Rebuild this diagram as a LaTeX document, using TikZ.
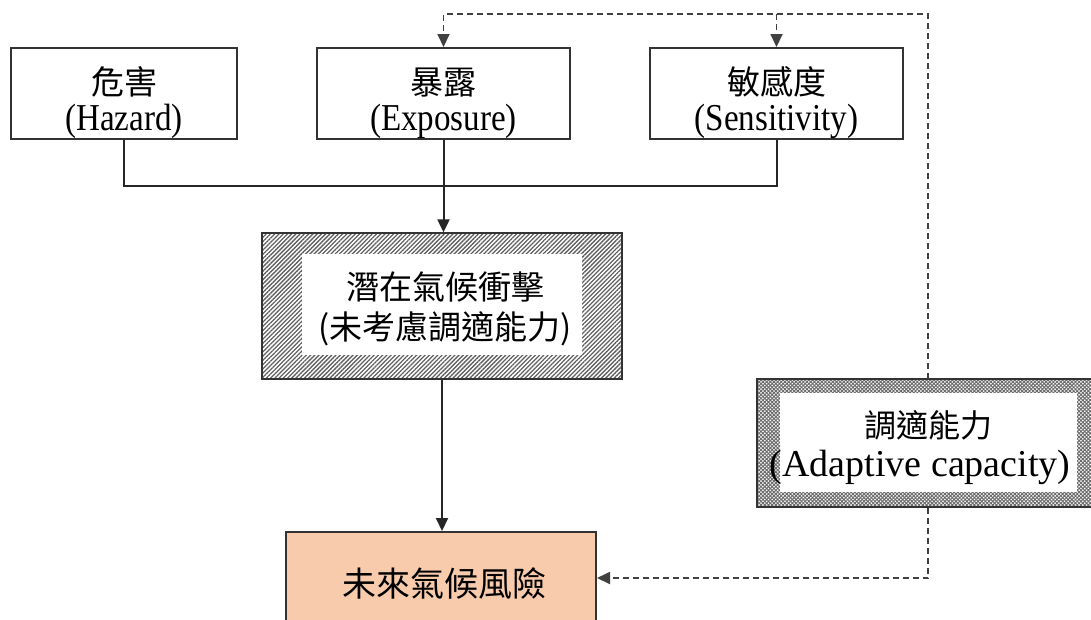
\documentclass[tikz,border=0pt]{standalone}
\usepackage{fontspec}
\setmainfont{Liberation Serif}
\newfontfamily\cjk{Noto Sans CJK TC}
\usetikzlibrary{arrows.meta,patterns.meta}
\definecolor{peach}{HTML}{F8CBAD}
\definecolor{edge}{HTML}{333333}
\tikzset{
  box/.style={draw=edge,line width=2pt,fill=white,inner sep=0pt,anchor=center},
  hatchbox/.style={draw=edge,line width=2pt,inner sep=0pt,pattern={Lines[angle=45,distance=3pt,line width=1.3pt]},pattern color=gray!75!black},
  crossbox/.style={draw=edge,line width=2pt,inner sep=0pt,pattern={Hatch[angle=45,distance=2.6pt,line width=1pt]},pattern color=gray!85!black},
  inner/.style={fill=white,draw=none,inner sep=0pt},
  zh/.style={font=\cjk\fontsize{33}{36}\selectfont,inner sep=0pt,anchor=base},
  en/.style={font=\fontsize{38}{40}\selectfont\addfontfeature{FakeStretch=0.87},inner sep=0pt,anchor=base},
  enbig/.style={font=\fontsize{38}{40}\selectfont,inner sep=0pt,anchor=base},
  conn/.style={draw=black!85,line width=2pt},
  arr/.style={conn,-{Triangle[length=13pt,width=12pt]}},
  darr/.style={draw=black!75,line width=1.8pt,dash pattern=on 6pt off 4pt,-{Triangle[length=13pt,width=12pt]}}
}
\begin{document}
\begin{tikzpicture}[x=1pt,y=-1pt]
\useasboundingbox (0,0) rectangle (1091,619);
\clip (0,0) rectangle (1091,619);
% top boxes
\node[box,minimum width=226pt,minimum height=91pt] (haz) at (124,93.5) {};
\node[box,minimum width=253pt,minimum height=91pt] (exp) at (443.5,93.5) {};
\node[box,minimum width=253pt,minimum height=91pt] (sen) at (776.5,93.5) {};
\node[zh] (hazC) at (124,94) {危害};
\node[en] (hazE) at (124,130) {(Hazard)};
\node[zh] (expC) at (443.5,94) {暴露};
\node[en] (expE) at (443.5,130) {(Exposure)};
\node[zh] (senC) at (776.5,94) {敏感度};
\node[en] (senE) at (776.5,130) {(Sensitivity)};
% potential impact
\node[hatchbox,minimum width=360pt,minimum height=146pt] (pot) at (442,306) {};
\node[inner,minimum width=280pt,minimum height=101pt] (potIn) at (442,304.5) {};
\node[zh] (potA) at (445,299) {潛在氣候衝擊};
\node[zh] (potB) at (445,339) {(未考慮調適能力)};
% adaptive capacity
\node[crossbox,minimum width=342pt,minimum height=128pt] (ada) at (928,443) {};
\node[inner,minimum width=297pt,minimum height=99pt] (adaIn) at (928.5,442.5) {};
\node[zh,font=\cjk\fontsize{32}{36}\selectfont] (adaC) at (928.5,437) {調適能力};
\node[enbig] (adaE) at (920,476) {(Adaptive capacity)};
% future risk
\node[box,fill=peach,minimum width=310pt,minimum height=92pt] (risk) at (441,578) {};
\node[zh,font=\cjk\fontsize{34}{36}\selectfont] (riskT) at (444,596) {未來氣候風險};
% connectors
\coordinate (j) at (443.5,186);
\coordinate (top) at (0,14);
\draw[conn] (haz.south) |- (j) -| (sen.south);
\draw[arr] (exp.south) -- (pot.north -| exp.south);
\draw[arr] (pot.south) -- (pot.south |- risk.north);
\draw[darr] (ada.north) |- (exp.north |- top) -- (exp.north);
\draw[darr] (sen.north |- top) -- (sen.north);
\draw[darr] (ada.south) |- (risk.east);
\end{tikzpicture}
\end{document}
